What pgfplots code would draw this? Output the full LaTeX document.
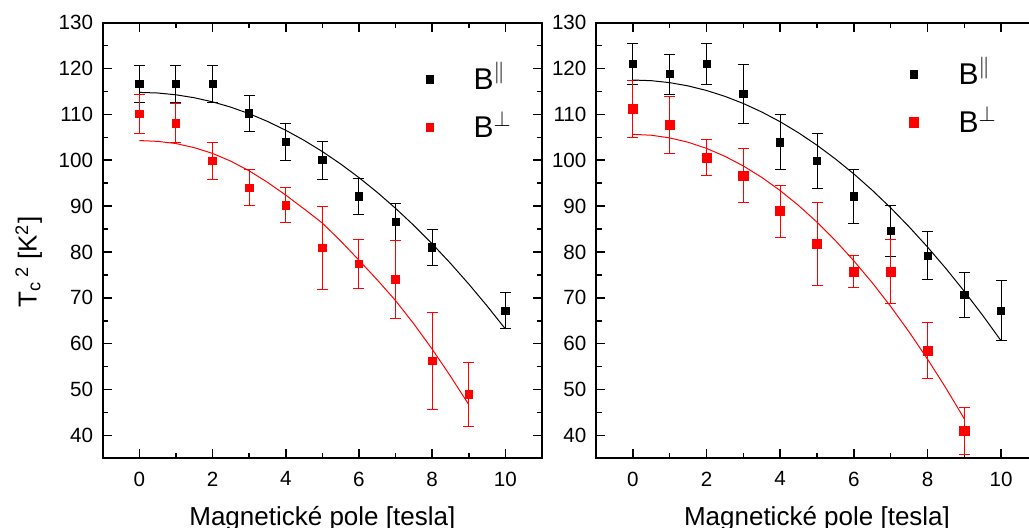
\documentclass[border=0pt]{standalone}
\usepackage{amsmath}
\usepackage{fontspec}
\setmainfont{Liberation Sans}
\usepackage{pgfplots}
\pgfplotsset{compat=1.18}

\pgfplotsset{
  panel/.style={
    scale only axis, anchor=south west,
    height=217.8pt,
    xmin=-1, xmax=11, ymin=35, ymax=130,
    xtick={0,2,...,10}, ytick={40,50,...,130},
    minor x tick num=1, minor y tick num=1,
    tick align=inside,
    major tick length=4.5pt, minor tick length=2.75pt,
    axis line style={line width=1pt},
    every tick/.style={black, line width=0.8pt},
    /pgf/number format/assume math mode=true,
    tick label style={font=\fontsize{10.3}{12}\selectfont, inner sep=0pt},
    yticklabel style={anchor=east, xshift=-4.6pt},
    xticklabel style={anchor=north, yshift=-6.5pt},
    label style={font=\fontsize{13}{15}\selectfont},
    xlabel={Magnetické pole [tesla]},
    xlabel style={at={(axis description cs:0.5,-0.1535)}, anchor=base},
    legend cell align=left,
    legend image code/.code={\draw[#1] plot coordinates {(0pt,0pt)};},
    legend style={draw=none, fill=none, inner sep=0pt,
      font=\fontsize{15}{18}\selectfont,
      nodes={inner sep=0pt, text height=11pt, text depth=1pt},
      row sep=12pt,
      /tikz/every odd column/.style={column sep=20pt}},
  },
  blk/.style={black, only marks, mark=square*, mark size=1.8pt,
    mark options={line width=0.4pt},
    error bars/.cd, y dir=both, y explicit,
    error bar style={line width=0.5pt, black},
    error mark options={rotate=90, line width=0.5pt, mark size=2.75pt, black}},
  rd/.style={red, only marks, mark=square*, mark size=#1,
    mark options={line width=0.4pt},
    error bars/.cd, y dir=both, y explicit,
    error bar style={line width=0.5pt, red},
    error mark options={rotate=90, line width=0.5pt, mark size=2.75pt, red}},
}

\begin{document}
\begin{tikzpicture}
% ---- left panel ----
\begin{axis}[panel, at={(51.35pt,34.85pt)}, width=219.65pt,
    ylabel={T$_{\text{c}}{}^{\,\text{2}}$ [K$^{\text{2}}$]},
    ylabel style={at={(axis description cs:-0.1502,0.451)}, anchor=base, rotate=0},
    legend style={at={(axis cs:7.82,112.4)}, anchor=west}]
\addplot+[blk] coordinates {
(0,116.6) +- (0,4.0)
(1,116.6) +- (0,4.0)
(2,116.6) +- (0,4.0)
(3,110.2) +- (0,4.0)
(4,104.0) +- (0,4.0)
(5,100.0) +- (0,4.1)
(6,92.1) +- (0,4.0)
(7,86.5) +- (0,4.0)
(8,81.0) +- (0,4.0)
(10,67.2) +- (0,4.0)
};
\addlegendentry{B$^{\parallel}$}
\addplot+[rd=1.9pt] coordinates {
(0,110.1) +- (0,4.2)
(1,108.1) +- (0,4.2)
(2,99.9) +- (0,4.0)
(3,94.0) +- (0,3.9)
(4,90.2) +- (0,3.8)
(5,80.9) +- (0,9.0)
(6,77.4) +- (0,5.3)
(7,74.0) +- (0,8.6)
(8,56.2) +- (0,10.5)
(9,49.0) +- (0,7.0)
};
\addlegendentry{B$^{\perp}$}
% fitted curves
\addplot[black, line width=0.5pt, forget plot] coordinates {
(0,114.80) (0.5,114.67) (1,114.28) (1.5,113.64) (2,112.74) (2.5,111.58)
(3,110.16) (3.5,108.48) (4,106.54) (4.5,104.35) (5,101.90) (5.5,99.19)
(6,96.22) (6.5,93.00) (7,89.52) (7.5,85.78) (8,81.78) (8.5,77.52)
(9,73.00) (9.5,68.23) (10,63.20)
};
\addplot[red, line width=0.5pt, forget plot] coordinates {
(0,104.30) (0.5,104.12) (1,103.65) (1.5,102.75) (2,101.50) (2.5,99.80)
(3,97.70) (3.5,95.20) (4,92.40) (4.5,89.40) (5,86.30) (5.5,82.40)
(6,78.20) (6.5,73.90) (7,69.40) (7.5,64.30) (8,58.80) (8.5,52.90)
(9,46.70)
};
\end{axis}
% ---- right panel ----
\begin{axis}[panel, at={(298pt,34.85pt)}, width=221pt,
    legend style={at={(axis cs:7.5,113.5)}, anchor=west}]
\addplot+[blk] coordinates {
(0,121.0) +- (0,4.4)
(1,118.8) +- (0,4.35)
(2,121.0) +- (0,4.4)
(3,114.4) +- (0,6.4)
(4,103.9) +- (0,6.0)
(5,99.9) +- (0,6.0)
(6,92.1) +- (0,5.8)
(7,84.6) +- (0,5.5)
(8,79.2) +- (0,5.3)
(9,70.6) +- (0,5.0)
(10,67.2) +- (0,6.5)
};
\addlegendentry{B$^{\parallel}$}
\addplot+[rd=2.3pt] coordinates {
(0,111.2) +- (0,6.2)
(1,107.7) +- (0,6.3)
(2,100.6) +- (0,4.0)
(3,96.6) +- (0,5.9)
(4,88.9) +- (0,5.7)
(5,81.7) +- (0,9.0)
(6,75.7) +- (0,3.5)
(7,75.7) +- (0,7.0)
(8,58.5) +- (0,6.1)
(9,41.0) +- (0,5.15)
};
\addlegendentry{B$^{\perp}$}
\addplot[black, line width=0.5pt, forget plot] coordinates {
(0,117.50) (0.5,117.36) (1,116.93) (1.5,116.22) (2,115.22) (2.5,113.94)
(3,112.38) (3.5,110.53) (4,108.40) (4.5,105.98) (5,103.28) (5.5,100.29)
(6,97.02) (6.5,93.46) (7,89.62) (7.5,85.49) (8,81.08) (8.5,76.39)
(9,71.41) (9.5,66.15) (10,60.60)
};
\addplot[red, line width=0.5pt, forget plot] coordinates {
(0,105.65) (0.5,105.46) (1,104.88) (1.5,103.93) (2,102.59) (2.5,100.86)
(3,98.76) (3.5,96.27) (4,93.39) (4.5,90.14) (5,86.50) (5.5,82.48)
(6,78.07) (6.5,73.29) (7,68.12) (7.5,62.56) (8,56.63) (8.5,50.31)
(9,43.60)
};
\end{axis}
\pgfresetboundingbox
\path[use as bounding box] (0,0) rectangle (514.5pt,264pt);
\end{tikzpicture}
\end{document}
